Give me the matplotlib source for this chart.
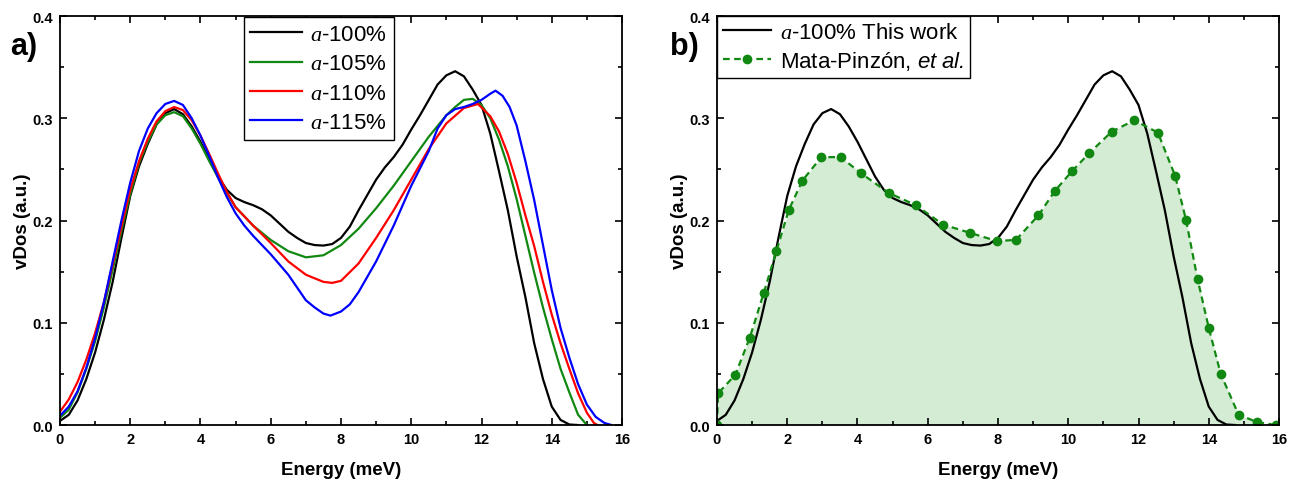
import numpy as np
import matplotlib
matplotlib.use("Agg")
import matplotlib.pyplot as plt
from matplotlib.ticker import MultipleLocator, FormatStrFormatter

plt.rcParams['font.family'] = ['Liberation Sans', 'DejaVu Sans']
plt.rcParams['mathtext.fontset'] = 'custom'
plt.rcParams['mathtext.it'] = 'Liberation Serif:italic'
plt.rcParams['mathtext.rm'] = 'Liberation Sans'
plt.rcParams['mathtext.sf'] = 'Liberation Sans:italic'

# a-100% (this work), shared by both panels
e_100 = [0, 0.25, 0.5, 0.75, 1, 1.25, 1.5, 1.75, 2, 2.25, 2.5, 2.75, 3, 3.25, 3.5, 3.75,
         4, 4.25, 4.5, 4.75, 5, 5.25, 5.5, 5.75, 6, 6.25, 6.5, 6.75, 7, 7.25, 7.5, 7.75,
         8, 8.25, 8.5, 8.75, 9, 9.25, 9.5, 9.75, 10, 10.25, 10.5, 10.75, 11, 11.25, 11.5,
         11.75, 12, 12.25, 12.5, 12.75, 13, 13.25, 13.5, 13.75, 14, 14.25, 14.5, 14.75]
v_100 = [0.004, 0.01, 0.024, 0.045, 0.071, 0.103, 0.14, 0.183, 0.224, 0.253, 0.275, 0.294,
         0.305, 0.309, 0.304, 0.292, 0.277, 0.26, 0.243, 0.23, 0.222, 0.218, 0.215, 0.211,
         0.205, 0.197, 0.189, 0.183, 0.178, 0.176, 0.1755, 0.177, 0.183, 0.194, 0.21, 0.225,
         0.24, 0.252, 0.262, 0.274, 0.289, 0.303, 0.318, 0.333, 0.342, 0.346, 0.341, 0.328,
         0.313, 0.285, 0.248, 0.21, 0.165, 0.125, 0.08, 0.045, 0.018, 0.005, 0.0005, 0.0]

e_105 = [0, 0.25, 0.5, 0.75, 1, 1.25, 1.5, 1.75, 2, 2.25, 2.5, 2.75, 3, 3.25, 3.5, 3.75,
         4, 4.25, 4.5, 4.75, 5, 5.5, 6, 6.5, 7, 7.5, 8, 8.5, 9, 9.5, 10, 10.5, 11, 11.25,
         11.5, 11.75, 12, 12.25, 12.5, 12.75, 13, 13.25, 13.5, 13.75, 14, 14.25, 14.5,
         14.75, 15]
v_105 = [0.007, 0.015, 0.032, 0.055, 0.082, 0.115, 0.152, 0.19, 0.226, 0.256, 0.277, 0.294,
         0.303, 0.306, 0.302, 0.29, 0.275, 0.258, 0.242, 0.227, 0.213, 0.195, 0.181, 0.17,
         0.164, 0.166, 0.176, 0.192, 0.212, 0.234, 0.258, 0.282, 0.303, 0.311, 0.318, 0.319,
         0.313, 0.3, 0.279, 0.253, 0.221, 0.185, 0.149, 0.115, 0.084, 0.055, 0.032, 0.01, 0.0]

e_110 = [0, 0.25, 0.5, 0.75, 1, 1.25, 1.5, 1.75, 2, 2.25, 2.5, 2.75, 3, 3.25, 3.5, 3.75,
         4, 4.25, 4.5, 4.75, 5, 5.5, 6, 6.5, 7, 7.5, 7.75, 8, 8.5, 9, 9.5, 10, 10.5, 11,
         11.5, 11.9, 12.25, 12.5, 12.75, 13, 13.25, 13.5, 13.75, 14, 14.25, 14.5, 14.75,
         15, 15.2, 15.3]
v_110 = [0.013, 0.025, 0.042, 0.064, 0.09, 0.12, 0.157, 0.194, 0.23, 0.258, 0.28, 0.297,
         0.307, 0.311, 0.308, 0.298, 0.283, 0.265, 0.246, 0.228, 0.213, 0.195, 0.178, 0.16,
         0.147, 0.14, 0.139, 0.141, 0.158, 0.183, 0.21, 0.24, 0.27, 0.295, 0.31, 0.314,
         0.302, 0.287, 0.265, 0.237, 0.205, 0.175, 0.14, 0.108, 0.08, 0.055, 0.031, 0.012,
         0.002, 0.0]

e_115 = [0, 0.25, 0.5, 0.75, 1, 1.25, 1.5, 1.75, 2, 2.25, 2.5, 2.75, 3, 3.25, 3.5, 3.75,
         4, 4.25, 4.5, 4.75, 5, 5.25, 5.5, 6, 6.5, 7, 7.25, 7.5, 7.7, 8, 8.25, 8.5, 9, 9.5,
         10, 10.5, 10.75, 11, 11.25, 11.5, 11.75, 12, 12.25, 12.4, 12.6, 12.8, 13, 13.25,
         13.5, 13.75, 14, 14.25, 14.5, 14.75, 15, 15.25, 15.5, 15.7]
v_115 = [0.009, 0.018, 0.033, 0.056, 0.085, 0.12, 0.16, 0.2, 0.237, 0.268, 0.29, 0.305,
         0.314, 0.317, 0.313, 0.3, 0.283, 0.263, 0.242, 0.223, 0.207, 0.195, 0.185, 0.167,
         0.147, 0.122, 0.115, 0.109, 0.107, 0.111, 0.118, 0.13, 0.16, 0.195, 0.234, 0.268,
         0.29, 0.303, 0.309, 0.311, 0.314, 0.318, 0.324, 0.327, 0.322, 0.311, 0.293, 0.258,
         0.22, 0.176, 0.132, 0.095, 0.066, 0.04, 0.02, 0.008, 0.002, 0.0]

e_mata = [0.0, 0.03, 0.52, 0.93, 1.33, 1.69, 2.04, 2.43, 2.97, 3.52, 4.11, 4.89, 5.66, 6.44,
          7.2, 7.96, 8.51, 9.15, 9.62, 10.1, 10.6, 11.24, 11.88, 12.55, 13.04, 13.35, 13.68,
          14.0, 14.34, 14.85, 15.37, 15.9]
v_mata = [0.0, 0.031, 0.049, 0.085, 0.129, 0.17, 0.21, 0.239, 0.262, 0.262, 0.246, 0.227,
          0.215, 0.196, 0.188, 0.18, 0.181, 0.205, 0.229, 0.248, 0.266, 0.287, 0.298, 0.286,
          0.244, 0.201, 0.143, 0.095, 0.05, 0.01, 0.003, 0.0]

labels_a = [r'$a$-100%', r'$a$-105%', r'$a$-110%', r'$a$-115%']
colors_a = ['black', '#118811', '#ff0000', '#0000ff']


def style_axes(ax):
    ax.set_xlim(0, 16)
    ax.set_ylim(0, 0.4)
    ax.xaxis.set_major_locator(MultipleLocator(2))
    ax.xaxis.set_minor_locator(MultipleLocator(1))
    ax.yaxis.set_major_locator(MultipleLocator(0.1))
    ax.yaxis.set_minor_locator(MultipleLocator(0.05))
    ax.yaxis.set_major_formatter(FormatStrFormatter('%.1f'))
    ax.tick_params(which='both', direction='in', top=True, right=True, width=1.2)
    ax.tick_params(which='major', length=5, labelsize=10.5, pad=5)
    ax.tick_params(which='minor', length=3)
    for lab in ax.get_xticklabels() + ax.get_yticklabels():
        lab.set_fontweight('bold')
    for s in ax.spines.values():
        s.set_linewidth(1.3)
    ax.set_xlabel('Energy (meV)', fontsize=13.5, fontweight='bold', labelpad=11)
    ax.set_ylabel('vDos (a.u.)', fontsize=13.5, fontweight='bold', labelpad=1)


fig = plt.figure(figsize=(13.01, 4.85), dpi=100)
ax_a = fig.add_axes([0.0461, 0.1216, 0.432, 0.8433])
ax_b = fig.add_axes([0.5511, 0.1216, 0.432, 0.8433])

series = [(e_100, v_100), (e_105, v_105), (e_110, v_110), (e_115, v_115)]
for (e, v), c, lab in zip(series, colors_a, labels_a):
    ax_a.plot(e, v, color=c, lw=1.6, label=lab)
style_axes(ax_a)
leg = ax_a.legend(loc='upper left', bbox_to_anchor=(0.327, 0.997), borderaxespad=0,
                  fontsize=16, handlelength=2.3, labelspacing=0.38, borderpad=0.3,
                  handletextpad=0.4, fancybox=False, edgecolor='black', framealpha=1)
leg.get_frame().set_linewidth(1.0)

ax_b.fill_between(e_mata, v_mata, color='#d3ecd3', lw=0)
ax_b.plot(e_100, v_100, color='black', lw=1.6, label=r'$a$-100% This work')
ax_b.plot(e_mata, v_mata, color='#118811', lw=1.6, ls=(0, (3, 2)), marker='o', ms=6,
          label=r'Mata-Pinzón, $\mathsf{et\ al.}$')
style_axes(ax_b)
leg = ax_b.legend(loc='upper left', bbox_to_anchor=(0, 1), borderaxespad=0, fontsize=16,
                  handlelength=2.2, labelspacing=0.3, borderpad=0.25, handletextpad=0.4,
                  fancybox=False, edgecolor='black', framealpha=1)
leg.get_frame().set_linewidth(1.0)

fig.text(0.008, 1 - 47 / 485, 'a)', fontsize=22, fontweight='bold', va='center')
fig.text(670 / 1301, 1 - 47 / 485, 'b)', fontsize=22, fontweight='bold', va='center')

fig.savefig('out.png', dpi=100)
